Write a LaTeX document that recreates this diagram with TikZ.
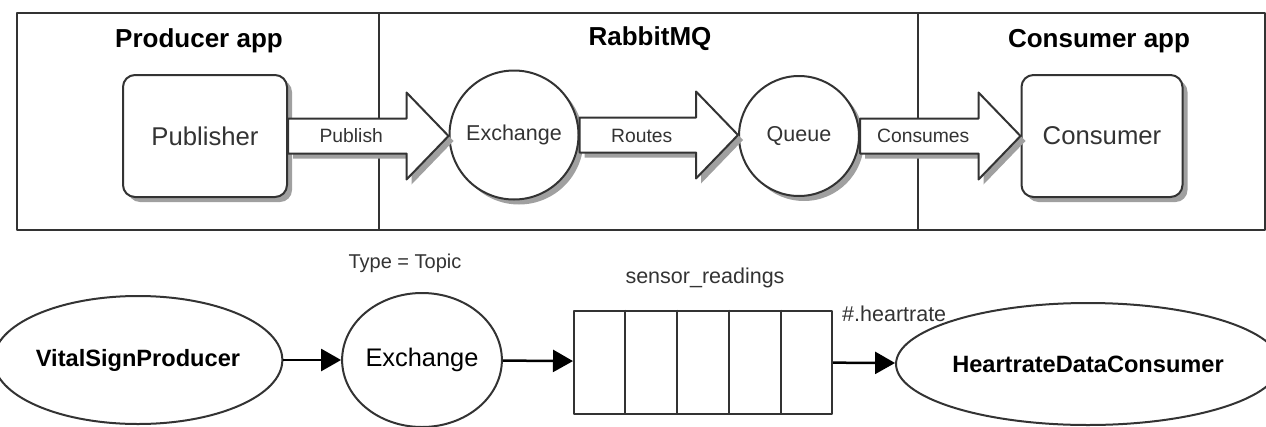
\documentclass[tikz,border=0pt]{standalone}
\usepackage{fontspec}
\setmainfont{Liberation Sans}
\usetikzlibrary{shapes.geometric,arrows.meta,shadows,calc,positioning}
\definecolor{linegray}{HTML}{333333}
\definecolor{shadegray}{HTML}{A0A0A0}
\tikzset{
  panel/.style={draw=linegray, line width=2pt, minimum height=217pt, inner sep=0pt, outer sep=0pt},
  paneltitle/.style={font=\fontsize{26}{30}\selectfont\bfseries, inner sep=0pt},
  boxshadow/.style={drop shadow={shadow xshift=5pt, shadow yshift=-5pt, fill=shadegray, opacity=1}},
  appbox/.style={draw=linegray, line width=2pt, fill=white, rounded corners=12pt, minimum height=122pt,
    text=linegray, font=\fontsize{25.7}{30}\selectfont, boxshadow},
  circ/.style={circle, draw=linegray, line width=2pt, fill=white, inner sep=0pt,
    text=linegray, font=\fontsize{21.5}{26}\selectfont, boxshadow},
  fatarrow/.style={draw=linegray, line width=2pt, fill=white, boxshadow},
  arrowlabel/.style={text=linegray, font=\fontsize{19.3}{23}\selectfont, inner sep=0pt},
  oval/.style={ellipse, draw=linegray, line width=2pt, inner sep=0pt, font=\fontsize{23.6}{28}\selectfont\bfseries},
  plaintext/.style={text=linegray, inner sep=0pt, font=\fontsize{21.5}{26}\selectfont},
  queuebox/.style={draw=linegray, line width=2pt, minimum width=258pt, minimum height=103pt, inner sep=0pt},
  link/.style={-{Triangle[length=20pt,width=22pt]}, line width=2.5pt, draw=black}
}
% block arrow between two named nodes, with its label on the shaft
\newcommand{\fatarrow}[3]{%
  \draw[fatarrow] let \p1=(#1.east), \p2=(#2.west) in
    (\x1,\y1+17.5pt) -- (\x2-42pt,\y1+17.5pt) -- (\x2-42pt,\y1+43.5pt) -- (\x2,\y1)
    -- (\x2-42pt,\y1-43.5pt) -- (\x2-42pt,\y1-17.5pt) -- (\x1,\y1-17.5pt) -- cycle;
  \node[arrowlabel] at ($(#1.east)!0.5!(#2.west)+(-17,0)$) {#3};}
\begin{document}
\begin{tikzpicture}[x=1pt,y=-1pt,line join=round]
\useasboundingbox (0,0) rectangle (1266,426);
% top: the three parts
\node[panel, minimum width=362pt, anchor=north west] (prodpanel) at (17,13) {};
\node[panel, minimum width=539pt, anchor=north west] (mqpanel) at (prodpanel.north east) {};
\node[panel, minimum width=347pt, anchor=north west] (conspanel) at (mqpanel.north east) {};
\node[paneltitle] (prodtitle) at (199,41) {Producer app};
\node[paneltitle] (mqtitle) at (650,39) {RabbitMQ};
\node[paneltitle] (constitle) at (1099,41) {Consumer app};

\node[appbox, minimum width=164pt] (publisher) at (205,136) {Publisher};
\node[circ, minimum size=129pt] (exchange) at (514,135) {Exchange};
\node[circ, minimum size=120pt] (queue) at (799,136) {Queue};
\node[appbox, minimum width=161pt] (consumer) at (1102,136) {Consumer};

\fatarrow{publisher}{exchange}{Publish}
\fatarrow{exchange}{queue}{Routes}
\fatarrow{queue}{consumer}{Consumes}

% bottom: topic routing example
\node[oval, minimum width=258pt, minimum height=128pt] (producer) at (138,360) {VitalSignProducer};
\node[oval, font=\fontsize{25.4}{30}\selectfont, minimum width=140pt, minimum height=134pt] (topicex) at (422,360) {Exchange};
\node[plaintext, font=\fontsize{20}{24}\selectfont] (extype) at (405,263) {Type = Topic};
\node[queuebox] (readings) at (703,362) {};
\foreach \i in {1,...,4}
  \draw[draw=linegray, line width=2pt] ($(readings.north west)!\i/5!(readings.north east)$) -- ($(readings.south west)!\i/5!(readings.south east)$);
\node[plaintext] (qname) at (705,278) {sensor\_readings};
\node[plaintext, anchor=west] (routekey) at (842,314) {\#.heartrate};
\node[oval, minimum width=348pt, minimum height=122pt] (hrconsumer) at (1088,364) {HeartrateDataConsumer};

\draw[link] (producer) -- (topicex);
\draw[link] (topicex) -- (readings);
\draw[link] (readings) -- (hrconsumer);
\end{tikzpicture}
\end{document}
